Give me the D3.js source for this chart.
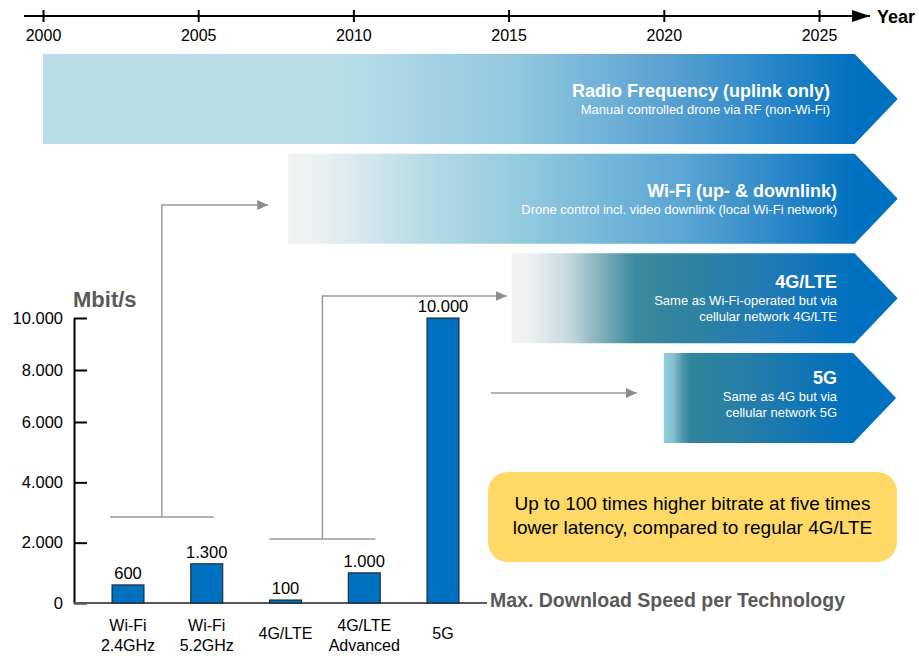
<!DOCTYPE html>
<html>
<head>
<meta charset="utf-8">
<script src="https://cdn.jsdelivr.net/npm/d3@7"></script>
<style>
body { margin: 0; background: #fff; }
svg { display: block; font-family: 'Liberation Sans', Arial, sans-serif; }
</style>
</head>
<body>
<svg id="chart"></svg>
<script>
'use strict';

const WIDTH = 919;
const HEIGHT = 656;

// timeline data
const years = [2000, 2005, 2010, 2015, 2020, 2025];
const techs = ['RF', 'WIFI', 'LTE', '5G'];
const techStart = [2000, 2007.9, 2015.1, 2020];
const techEnd = [2026.15, 2026.15, 2026.15, 2026.1];
const techTitles = ['Radio Frequency (uplink only)', 'Wi-Fi (up- & downlink)', '4G/LTE', '5G'];
const techNotes = [
    ['Manual controlled drone via RF (non-Wi-Fi)'],
    ['Drone control incl. video downlink (local Wi-Fi network)'],
    ['Same as Wi-Fi-operated but via', 'cellular network 4G/LTE'],
    ['Same as 4G but via', 'cellular network 5G']
];

// bar data
const categories = ['Wi-Fi\n2.4GHz', 'Wi-Fi\n5.2GHz', '4G/LTE', '4G/LTE\nAdvanced', '5G'];
const speeds = [600, 1300, 100, 1000, 10000];
const speedTicks = [0, 2000, 4000, 6000, 8000, 10000];

const callout = ['Up to 100 times higher bitrate at five times', 'lower latency, compared to regular 4G/LTE'];

const COLOR = {
    BAR: '#0070C0',
    GRAY_TEXT: '#595959',
    CONNECTOR: '#9a9a9a',
    CALLOUT: '#FFD966'
};

// gradient stops per chevron (offset, colour)
const GRADS = [
    [[0, '#B9DEE8'], [0.36, '#B9DEE8'], [0.58, '#92C8DF'], [0.78, '#569FD1'], [1, '#0070C0']],
    [[0, '#F2F2F2'], [0.06, '#E9F0F2'], [0.25, '#B4DAE5'], [0.4, '#95CBDF'], [0.7, '#5AA5D3'], [0.86, '#2E88C8'], [1, '#0070C0']],
    [[0, '#F2F2F2'], [0.06, '#EDF0F1'], [0.17, '#C4D7DC'], [0.28, '#74A7B5'], [0.36, '#3A8A9E'], [0.52, '#2F83A0'], [0.76, '#2079B5'], [1, '#0070C0']],
    [[0, '#92CDDC'], [0.05, '#84C1D1'], [0.1, '#4E97AA'], [0.14, '#31859C'], [0.5, '#237BAA'], [1, '#0070C0']]
];

const TIP = 43;                          // chevron point length
const TEXT_RIGHT = [830, 837, 837, 837]; // right edge of chevron texts
const TITLE_DY = [43, 43, 35, 31];
const AXIS_X = 74;

const fmt = d3.formatLocale({decimal: ',', thousands: '.', grouping: [3], currency: ['', '€']}).format(',d');

const svg = d3.select('#chart').attr('width', WIDTH).attr('height', HEIGHT);
const defs = svg.append('defs');

function marker(id, color, w, h) {
    defs.append('marker')
        .attr('id', id)
        .attr('viewBox', '0 0 ' + w + ' ' + h)
        .attr('refX', w).attr('refY', h / 2)
        .attr('markerWidth', w).attr('markerHeight', h)
        .attr('markerUnits', 'userSpaceOnUse')
        .attr('orient', 'auto')
        .append('path')
        .attr('d', 'M0,0L' + w + ',' + (h / 2) + 'L0,' + h + 'Z')
        .attr('fill', color);
}
marker('head-black', '#000', 18, 12);
marker('head-gray', '#8c8c8c', 11, 10);

// ---- timeline ----
const xYear = d3.scaleLinear().domain([2000, 2025]).range([43, 819]);
const yRow = d3.scaleBand().domain(techs).range([54, 443]).paddingInner(0.097);

svg.append('line')
    .attr('x1', 24).attr('x2', 870)
    .attr('y1', 16).attr('y2', 16)
    .attr('stroke', '#000').attr('stroke-width', 2)
    .attr('marker-end', 'url(#head-black)');

const yearAxis = svg.append('g')
    .attr('transform', 'translate(0,16)')
    .call(d3.axisBottom(xYear).tickValues(years).tickFormat(d3.format('d')).tickSize(6).tickPadding(8))
    .attr('font-family', null)
    .attr('font-size', 16);
yearAxis.select('.domain').remove();
yearAxis.selectAll('.tick line').attr('y1', -6).attr('stroke', '#000').attr('stroke-width', 2);
yearAxis.selectAll('.tick text').attr('fill', '#000');

svg.append('text')
    .attr('x', 877).attr('y', 22.5)
    .attr('font-size', 18).attr('font-weight', 'bold')
    .text('Year');

techs.forEach(function(t, i) {
    let g = defs.append('linearGradient')
        .attr('id', 'grad-' + i)
        .attr('gradientUnits', 'userSpaceOnUse')
        .attr('x1', xYear(techStart[i])).attr('x2', xYear(techEnd[i]))
        .attr('y1', 0).attr('y2', 0);
    GRADS[i].forEach(function(s) {
        g.append('stop').attr('offset', s[0]).attr('stop-color', s[1]);
    });
});

const rows = svg.append('g').selectAll('g')
    .data(techs)
    .join('g');

rows.append('path')
    .attr('d', function(d, i) {
        let x0 = xYear(techStart[i]), x1 = xYear(techEnd[i]);
        let y0 = yRow(d), h = yRow.bandwidth();
        return 'M' + x0 + ',' + y0 + 'H' + x1 + 'L' + (x1 + TIP) + ',' + (y0 + h / 2) +
            'L' + x1 + ',' + (y0 + h) + 'H' + x0 + 'Z';
    })
    .attr('fill', function(d, i) { return 'url(#grad-' + i + ')'; });

rows.append('text')
    .attr('x', function(d, i) { return TEXT_RIGHT[i]; })
    .attr('y', function(d, i) { return yRow(d) + TITLE_DY[i]; })
    .attr('text-anchor', 'end')
    .attr('font-size', 18).attr('font-weight', 'bold')
    .attr('fill', '#fff')
    .text(function(d, i) { return techTitles[i]; });

rows.each(function(d, i) {
    let notes = techNotes[i];
    let lineH = notes.length > 1 ? 16 : 17;
    d3.select(this).selectAll('text.note')
        .data(notes)
        .join('text')
        .attr('class', 'note')
        .attr('x', TEXT_RIGHT[i])
        .attr('y', function(n, j) { return yRow(d) + TITLE_DY[i] + 17 + j * lineH; })
        .attr('text-anchor', 'end')
        .attr('font-size', 13)
        .attr('fill', '#fff')
        .text(function(n) { return n; });
});

// ---- bar chart ----
const xCat = d3.scalePoint().domain(categories).range([128, 443]);
const ySpeed = d3.scaleLinear().domain([0, 6000, 10000]).range([603, 422, 318]);
const BAR_W = 32;

const yAxis = svg.append('g')
    .attr('transform', 'translate(' + AXIS_X + ',0)')
    .call(d3.axisLeft(ySpeed).tickValues(speedTicks).tickFormat(fmt)
        .tickSizeInner(-13).tickSizeOuter(0).tickPadding(11))
    .attr('font-family', null)
    .attr('font-size', 16.5);
yAxis.select('.domain').attr('stroke', '#000').attr('stroke-width', 2);
yAxis.selectAll('.tick line').attr('stroke', '#000').attr('stroke-width', 2);
yAxis.selectAll('.tick text').attr('fill', '#000');

svg.append('text')
    .attr('x', 73).attr('y', 307)
    .attr('font-size', 22).attr('font-weight', 'bold')
    .attr('fill', COLOR.GRAY_TEXT)
    .text('Mbit/s');

// connectors from bar groups to the timeline
function connector(pts) {
    svg.append('path')
        .attr('d', d3.line()(pts))
        .attr('fill', 'none')
        .attr('stroke', COLOR.CONNECTOR)
        .attr('stroke-width', 1.5);
}
function arrow(pts) {
    svg.append('path')
        .attr('d', d3.line()(pts))
        .attr('fill', 'none')
        .attr('stroke', COLOR.CONNECTOR)
        .attr('stroke-width', 1.5)
        .attr('marker-end', 'url(#head-gray)');
}
let wl = xCat(categories[0]) - 18, wr = xCat(categories[1]) + 7, wm = (wl + wr) / 2;
connector([[wl, 517], [wr, 517]]);
arrow([[wm, 517], [wm, 205], [xYear(techStart[1]) - 20, 205]]);

let ll = xCat(categories[2]) - 16, lr = xCat(categories[3]) + 11, lm = (ll + lr) / 2;
connector([[ll, 539], [lr, 539]]);
arrow([[lm, 539], [lm, 296], [xYear(techStart[2]) - 5, 296]]);

arrow([[491, 393], [xYear(techStart[3]) - 27, 393]]);

// baseline
svg.append('line')
    .attr('x1', AXIS_X).attr('x2', 487)
    .attr('y1', ySpeed(0)).attr('y2', ySpeed(0))
    .attr('stroke', '#595959').attr('stroke-width', 2);

svg.append('text')
    .attr('x', 490).attr('y', 607)
    .attr('font-size', 19.5).attr('font-weight', 'bold')
    .attr('fill', COLOR.GRAY_TEXT)
    .text('Max. Download Speed per Technology');

svg.append('g').selectAll('rect')
    .data(speeds)
    .join('rect')
    .attr('x', function(d, i) { return xCat(categories[i]) - BAR_W / 2; })
    .attr('y', function(d) { return ySpeed(d); })
    .attr('width', BAR_W)
    .attr('height', function(d) { return ySpeed(0) - ySpeed(d); })
    .attr('fill', COLOR.BAR)
    .attr('stroke', '#1a1a1a')
    .attr('stroke-width', 1);

svg.append('g').selectAll('text')
    .data(speeds)
    .join('text')
    .attr('x', function(d, i) { return xCat(categories[i]); })
    .attr('y', function(d) { return ySpeed(d) - 6; })
    .attr('text-anchor', 'middle')
    .attr('font-size', 16.5)
    .text(function(d) { return fmt(d); });

const catLabels = svg.append('g').selectAll('text')
    .data(categories)
    .join('text')
    .attr('text-anchor', 'middle')
    .attr('font-size', 16);
catLabels.each(function(d) {
    let lines = d.split('\n');
    let y0 = lines.length > 1 ? 631 : 639;
    d3.select(this).selectAll('tspan')
        .data(lines)
        .join('tspan')
        .attr('x', xCat(d))
        .attr('y', function(l, j) { return y0 + j * 20; })
        .text(function(l) { return l; });
});

// ---- callout ----
svg.append('rect')
    .attr('x', 488).attr('y', 472)
    .attr('width', 409).attr('height', 90)
    .attr('rx', 20)
    .attr('fill', COLOR.CALLOUT);

svg.append('g').selectAll('text')
    .data(callout)
    .join('text')
    .attr('x', 692.5)
    .attr('y', function(d, i) { return 510 + i * 24; })
    .attr('text-anchor', 'middle')
    .attr('font-size', 19)
    .text(function(d) { return d; });
</script>
</body>
</html>
